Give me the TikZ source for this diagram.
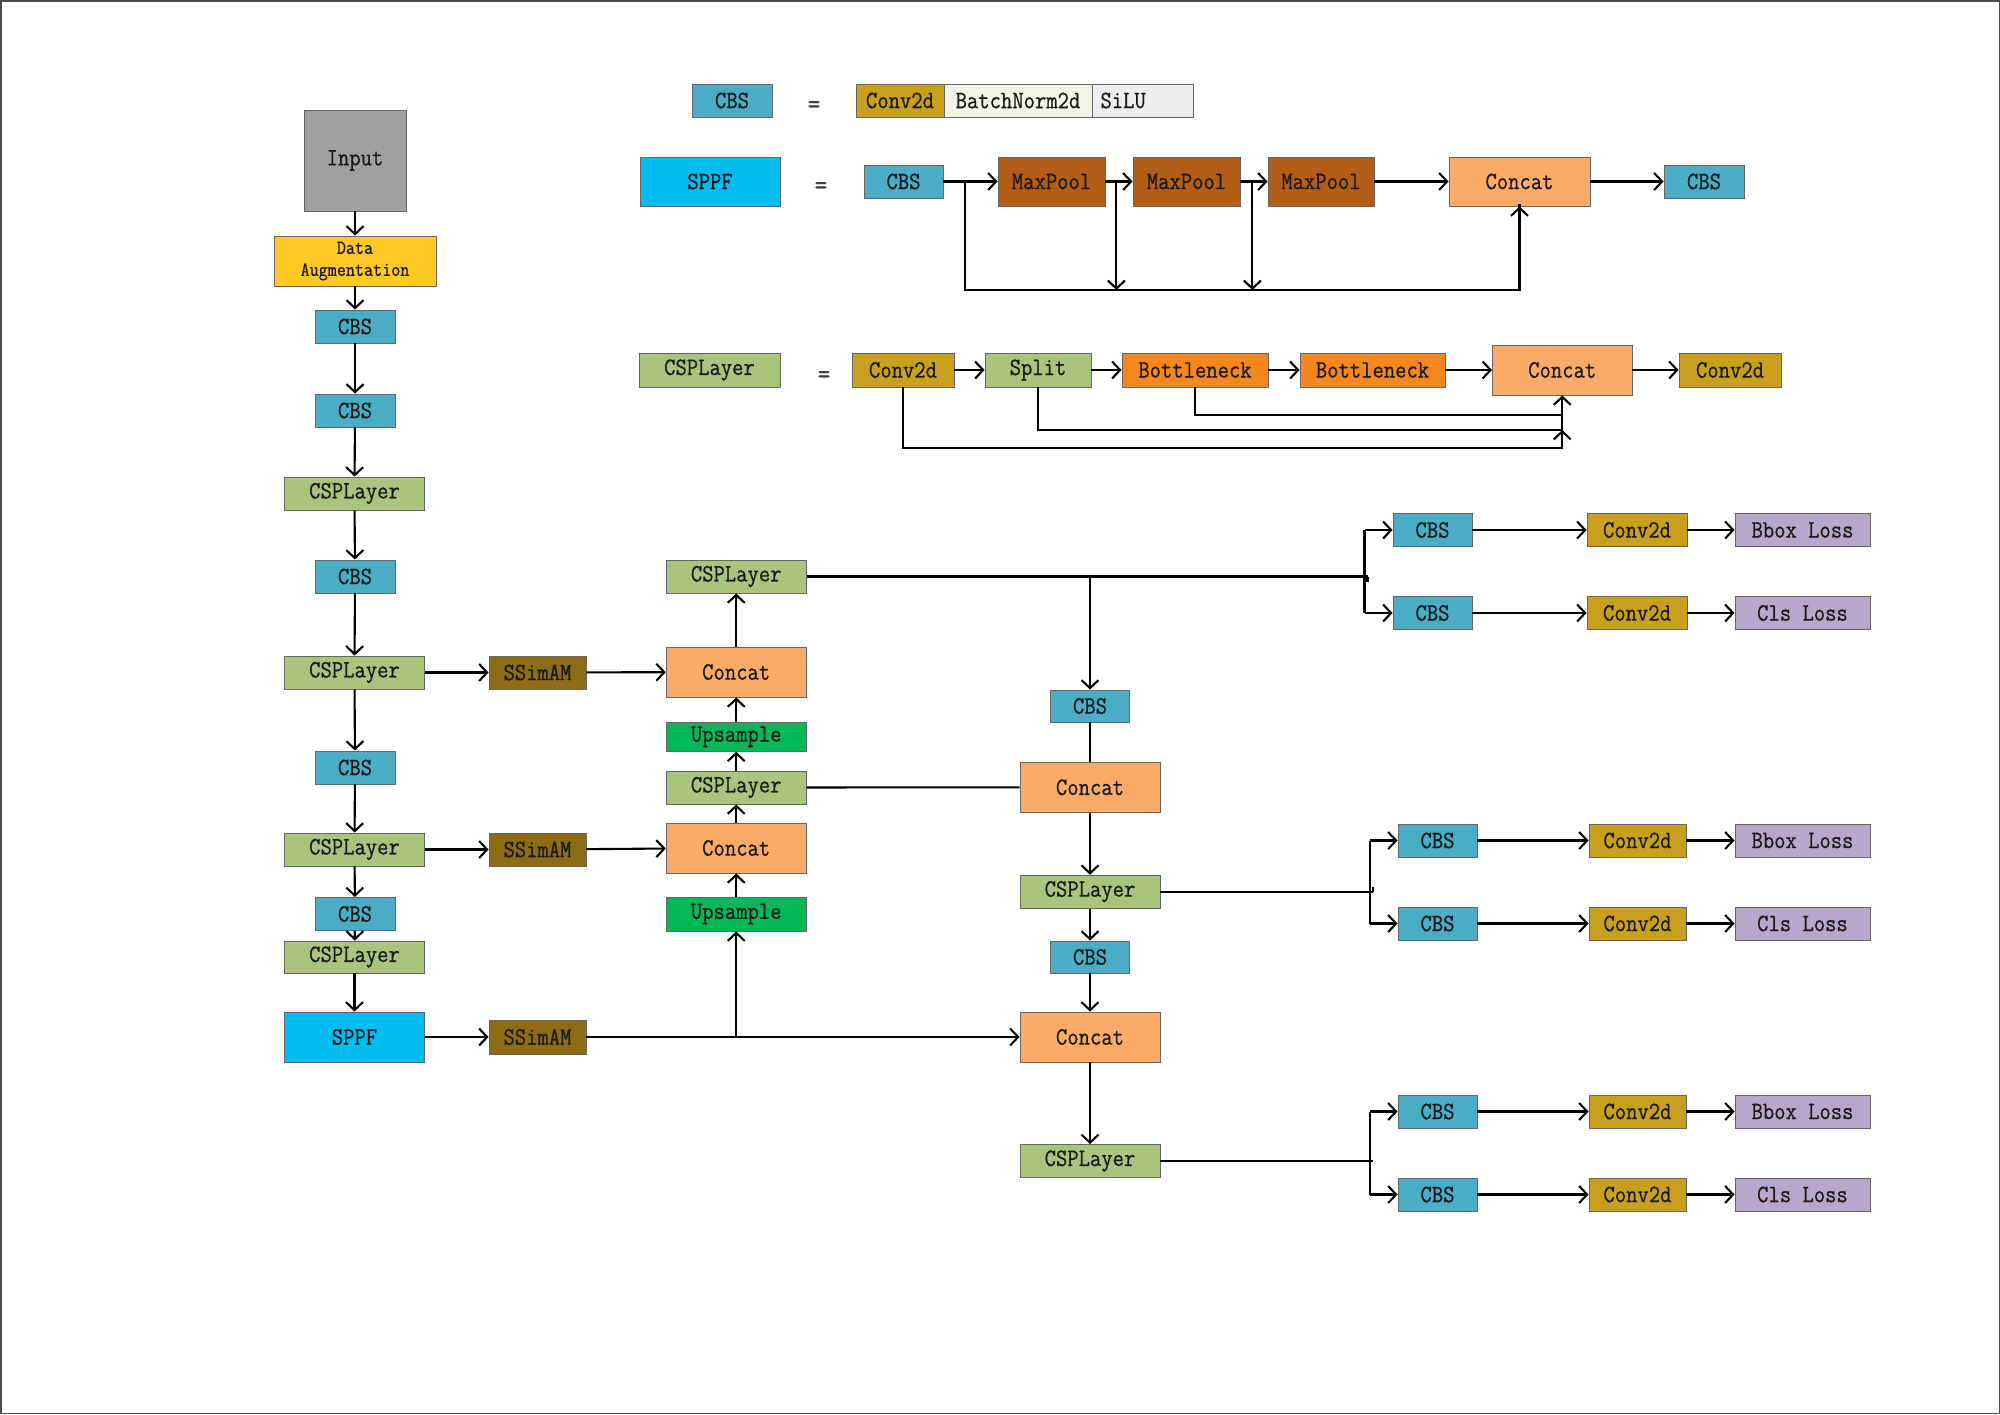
\documentclass[tikz,border=0pt]{standalone}
\usepackage{fontspec}
\newfontfamily\boxfont[FakeStretch=0.88,FakeBold=0.6]{Latin Modern Mono}
\usetikzlibrary{arrows.meta}
\definecolor{inpc}{HTML}{A0A0A0}
\definecolor{augc}{HTML}{FFC824}
\definecolor{cbsc}{HTML}{4BACC6}
\definecolor{cspc}{HTML}{A9C57D}
\definecolor{ssimc}{HTML}{8D6C15}
\definecolor{catc}{HTML}{FBAA67}
\definecolor{upc}{HTML}{00B858}
\definecolor{sppfc}{HTML}{00BCF0}
\definecolor{convc}{HTML}{C9A01E}
\definecolor{bnc}{HTML}{F3F3E6}
\definecolor{siluc}{HTML}{EEEEF1}
\definecolor{mpc}{HTML}{B25E16}
\definecolor{botc}{HTML}{F5871F}
\definecolor{lossc}{HTML}{B8A7CC}
\newcommand\mybox[7]{\node[#2,minimum width=#5pt,minimum height=#6pt] (#1) at (#3,#4) {#7};}
\begin{document}
\begin{tikzpicture}[x=1pt,y=-1pt,
  blk/.style={draw=black!60, line width=0.9pt, inner sep=0pt, align=center,
    font=\boxfont\fontsize{25}{28}\selectfont, text=black!90},
  arr/.style={line width=2.1pt, -{Straight Barb[length=8pt,width=17pt]}},
  ln/.style={line width=2.1pt},
  eqs/.style={font=\boxfont\fontsize{28}{30}\selectfont, text=black!75, inner sep=0pt},
  inp/.style={blk, fill=inpc},
  augs/.style={blk, fill=augc, font=\boxfont\fontsize{20}{22}\selectfont},
  cbs/.style={blk, fill=cbsc},
  csp/.style={blk, fill=cspc},
  ssim/.style={blk, fill=ssimc},
  cat/.style={blk, fill=catc},
  ups/.style={blk, fill=upc},
  sppfs/.style={blk, fill=sppfc},
  conv/.style={blk, fill=convc},
  bn/.style={blk, fill=bnc},
  silu/.style={blk, fill=siluc},
  mp/.style={blk, fill=mpc},
  bot/.style={blk, fill=botc},
  loss/.style={blk, fill=lossc}]
\useasboundingbox (0,0) rectangle (2000,1414);
\draw[black!70, line width=1.5pt] (0.75,0.75) rectangle (1999.25,1413.25);

% ---------- legend: CBS ----------
\mybox{lcbs}{cbs}{732}{100.5}{80}{33}{CBS}
\node[eqs] (eqa) at (814,107) {=};
\mybox{lconv}{conv}{900}{100.5}{88}{33}{Conv2d}
\mybox{lbn}{bn}{1018}{100.5}{148}{33}{BatchNorm2d}
\mybox{lsilu}{silu}{1142.5}{100.5}{101}{33}{}
\node[blk, draw=none, anchor=west] (lsilut) at (1100,100.5) {SiLU};

% ---------- legend: SPPF ----------
\mybox{lsppf}{sppfs}{710}{181.5}{140}{49}{SPPF}
\node[eqs] (eqb) at (821,188) {=};
\mybox{scbs}{cbs}{903.5}{181.5}{79}{33}{CBS}
\mybox{mpa}{mp}{1051.5}{181.5}{107}{49}{MaxPool}
\mybox{mpb}{mp}{1186.5}{181.5}{107}{49}{MaxPool}
\mybox{mpc}{mp}{1321}{181.5}{106}{49}{MaxPool}
\mybox{scat}{cat}{1519.5}{181.5}{141}{49}{Concat}
\mybox{scbsb}{cbs}{1704}{181.5}{80}{33}{CBS}
\draw[arr] (scbs) -- (mpa);
\draw[arr] (mpa) -- (mpb);
\draw[arr] (mpb) -- (mpc);
\draw[arr] (mpc) -- (scat);
\draw[arr] (scat) -- (scbsb);
\coordinate (sb0) at (965,181.5);
\coordinate (sb1) at (1116.4,181.5);
\coordinate (sb2) at (1252.4,181.5);
\coordinate (sbot) at (965,290);
\draw[ln] (sb0) -- (sbot) -| ([yshift=2pt]scat.south);
\draw[arr] (scat.south |- sbot) -- (scat.south);
\draw[arr] (sb1) -- (sb1 |- sbot);
\draw[arr] (sb2) -- (sb2 |- sbot);

% ---------- legend: CSPLayer ----------
\mybox{lcsp}{csp}{709.5}{370}{141}{34}{CSPLayer}
\node[eqs] (eqc) at (824,377) {=};
\mybox{cconv}{conv}{903}{370}{102}{34}{Conv2d}
\mybox{csplit}{csp}{1038}{370}{106}{34}{Split}
\mybox{cba}{bot}{1195}{370}{146}{34}{Bottleneck}
\mybox{cbb}{bot}{1372.5}{370}{145}{34}{Bottleneck}
\mybox{ccat}{cat}{1562.25}{370}{139.5}{50}{Concat}
\mybox{cconvb}{conv}{1730}{370}{102}{34}{Conv2d}
\draw[arr] (cconv) -- (csplit);
\draw[arr] (csplit) -- (cba);
\draw[arr] (cba) -- (cbb);
\draw[arr] (cbb) -- (ccat);
\draw[arr] (ccat) -- (cconvb);
\coordinate (cja) at (1562.25,415);
\coordinate (cjb) at (1562.25,430);
\coordinate (cjc) at (1562.25,448);
\draw[arr] (cconv.south) |- (cjc) -- (cjb);
\draw[ln] (csplit.south) |- (cjb) -- (cja);
\draw[arr] (cba.south) |- (cja) -- (ccat.south);

% ---------- backbone ----------
\mybox{input}{inp}{355}{160.5}{102}{101}{Input}
\mybox{aug}{augs}{355}{261}{162}{50}{Data\\Augmentation}
\mybox{bcbsa}{cbs}{355}{326.5}{80}{33}{CBS}
\mybox{bcbsb}{cbs}{355}{410.5}{80}{33}{CBS}
\mybox{bcspa}{csp}{354.5}{493.5}{140}{33}{CSPLayer}
\mybox{bcbsc}{cbs}{355}{576.5}{80}{33}{CBS}
\mybox{bcspb}{csp}{354.5}{672.5}{140}{33}{CSPLayer}
\mybox{bcbsd}{cbs}{355}{767.5}{80}{33}{CBS}
\mybox{bcspc}{csp}{354.5}{849.5}{140}{33}{CSPLayer}
\mybox{bcbse}{cbs}{355}{914}{80}{33}{CBS}
\mybox{bcspd}{csp}{354.5}{957}{140}{32}{CSPLayer}
\mybox{bsppf}{sppfs}{354.5}{1037}{140}{50}{SPPF}
\draw[arr] (input) -- (aug);
\draw[arr] (aug) -- (bcbsa);
\draw[arr] (bcbsa) -- (bcbsb);
\draw[arr] (bcbsb) -- (bcspa);
\draw[arr] (bcspa) -- (bcbsc);
\draw[arr] (bcbsc) -- (bcspb);
\draw[arr] (bcspb) -- (bcbsd);
\draw[arr] (bcbsd) -- (bcspc);
\draw[arr] (bcspc) -- (bcbse);
\draw[arr] (bcbse) -- (bcspd);
\draw[arr] (bcspd) -- (bsppf);

% ---------- SSimAM ----------
\mybox{ssa}{ssim}{537.5}{672.5}{97}{33}{SSimAM}
\mybox{ssb}{ssim}{537.5}{849.5}{97}{33}{SSimAM}
\mybox{ssc}{ssim}{537.5}{1037}{97}{34}{SSimAM}

% ---------- neck, left column ----------
\mybox{ncspa}{csp}{736.2}{576.5}{140}{33}{CSPLayer}
\mybox{ncata}{cat}{736.2}{672}{140}{50}{Concat}
\mybox{nupa}{ups}{736.2}{736.8}{140}{29}{Upsample}
\mybox{ncspb}{csp}{736.2}{787.5}{140}{33}{CSPLayer}
\mybox{ncatb}{cat}{736.2}{848}{140}{50}{Concat}
\mybox{nupb}{ups}{736.2}{914}{140}{34}{Upsample}

% ---------- neck, right column ----------
\mybox{rcbsa}{cbs}{1090}{706}{79}{32}{CBS}
\mybox{rcata}{cat}{1090}{787.3}{140}{50}{Concat}
\mybox{rcspa}{csp}{1090}{891.7}{140}{33}{CSPLayer}
\mybox{rcbsb}{cbs}{1090}{957}{79}{32}{CBS}
\mybox{rcatb}{cat}{1090}{1037}{140}{50}{Concat}
\mybox{rcspb}{csp}{1090}{1161}{140}{33}{CSPLayer}

\draw[arr] (bcspb) -- (ssa);
\draw[arr] (ssa) -- (ncata);
\draw[arr] (bcspc) -- (ssb);
\draw[arr] (ssb) -- (ncatb);
\draw[arr] (bsppf) -- (ssc);
\draw[arr] (ssc) -- (rcatb);
\coordinate (jup) at (736.2,1037);
\draw[arr] (jup) -- (nupb);
\draw[arr] (nupb) -- (ncatb);
\draw[arr] (ncatb) -- (ncspb);
\draw[arr] (ncspb) -- (nupa);
\draw[arr] (nupa) -- (ncata);
\draw[arr] (ncata) -- (ncspa);
\draw[ln] (ncspb) -- (rcata);
\draw[ln] (rcbsa) -- (rcata);
\draw[arr] (rcata) -- (rcspa);
\draw[arr] (rcspa) -- (rcbsb);
\draw[arr] (rcbsb) -- (rcatb);
\draw[arr] (rcatb) -- (rcspb);

% ---------- heads ----------
\mybox{haa}{cbs}{1432.5}{530}{79}{33}{CBS}
\mybox{hab}{conv}{1637}{530}{100}{33}{Conv2d}
\mybox{hac}{loss}{1802.5}{530}{135}{33}{Bbox Loss}
\mybox{hba}{cbs}{1432.5}{613}{79}{33}{CBS}
\mybox{hbb}{conv}{1637}{613}{100}{33}{Conv2d}
\mybox{hbc}{loss}{1802.5}{613}{135}{33}{Cls Loss}

\mybox{hca}{cbs}{1437.5}{840.5}{79}{33}{CBS}
\mybox{hcb}{conv}{1637.5}{840.5}{97}{33}{Conv2d}
\mybox{hcc}{loss}{1802.5}{840.5}{135}{33}{Bbox Loss}
\mybox{hda}{cbs}{1437.5}{923.5}{79}{33}{CBS}
\mybox{hdb}{conv}{1637.5}{923.5}{97}{33}{Conv2d}
\mybox{hdc}{loss}{1802.5}{923.5}{135}{33}{Cls Loss}

\mybox{hea}{cbs}{1437.5}{1111.5}{79}{33}{CBS}
\mybox{heb}{conv}{1637.5}{1111.5}{97}{33}{Conv2d}
\mybox{hec}{loss}{1802.5}{1111.5}{135}{33}{Bbox Loss}
\mybox{hfa}{cbs}{1437.5}{1194.5}{79}{33}{CBS}
\mybox{hfb}{conv}{1637.5}{1194.5}{97}{33}{Conv2d}
\mybox{hfc}{loss}{1802.5}{1194.5}{135}{33}{Cls Loss}

\foreach \a/\b/\c in {haa/hab/hac, hba/hbb/hbc, hca/hcb/hcc, hda/hdb/hdc, hea/heb/hec, hfa/hfb/hfc}{
  \draw[arr] (\a) -- (\b);
  \draw[arr] (\b) -- (\c);
}

% junctions
\coordinate (tja) at (1364.5,576.5);
\coordinate (tjb) at (1370,891.7);
\coordinate (tjc) at (1370,1161);
\draw[ln] (ncspa) -- ([xshift=3pt]tja);
\draw[ln] ([xshift=3pt]tja) -- ++(0,5);
\draw[arr] (rcbsa |- ncspa) -- (rcbsa);
\draw[ln] (tja |- haa) -- (tja |- hba);
\draw[arr] (tja |- haa) -- (haa);
\draw[arr] (tja |- hba) -- (hba);

\draw[ln] (rcspa) -- ([xshift=3pt]tjb);
\draw[ln] ([xshift=3pt]tjb) -- ++(0,-5);
\draw[ln] (tjb |- hca) -- (tjb |- hda);
\draw[arr] (tjb |- hca) -- (hca);
\draw[arr] (tjb |- hda) -- (hda);

\draw[ln] (rcspb) -- ([xshift=3pt]tjc);
\draw[ln] (tjc |- hea) -- (tjc |- hfa);
\draw[arr] (tjc |- hea) -- (hea);
\draw[arr] (tjc |- hfa) -- (hfa);
\end{tikzpicture}
\end{document}
